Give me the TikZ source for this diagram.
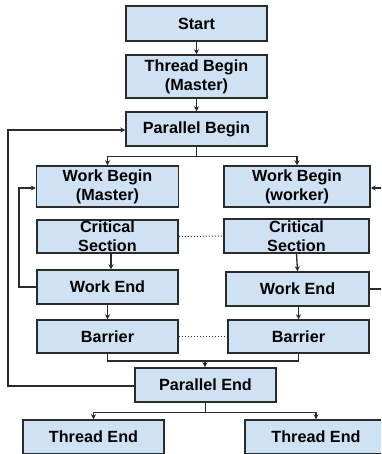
\documentclass[tikz,border=0pt]{standalone}
\usepackage{fontspec}
\setmainfont{Liberation Sans}
\usetikzlibrary{arrows.meta}
\definecolor{boxfill}{HTML}{CFE2F3}
\definecolor{boxline}{HTML}{2B2B2B}
\begin{document}
\begin{tikzpicture}[x=1pt,y=-1pt,
  box/.style={draw=boxline,fill=boxfill,line width=1.5pt,inner sep=0pt,align=center,
    font=\fontsize{16.2}{19}\selectfont\bfseries},
  conn/.style={draw=boxline,line width=1.3pt},
  arr/.style={conn,-{Stealth[length=5pt,width=5pt]}},
  dots/.style={draw=boxline,line width=1pt,dotted}]
\useasboundingbox (0,0) rectangle (381,454);
\clip (0,0) rectangle (381,454);
\node[box,minimum width=141pt,minimum height=35pt] (start) at (196.5,23.5) {Start};
\node[box,minimum width=141pt,minimum height=43pt] (tb) at (196.5,76.5) {Thread Begin\\(Master)};
\node[box,minimum width=141pt,minimum height=34pt] (pb) at (196.5,129) {Parallel Begin};
\node[box,minimum width=142pt,minimum height=41pt] (wbm) at (107.5,186.5) {Work Begin\\(Master)};
\node[box,minimum width=146pt,minimum height=41pt] (wbw) at (297,186.5) {Work Begin\\(worker)};
\node[box,minimum width=141pt,minimum height=33pt] (csm) at (107.5,236.5) {Critical\\Section};
\node[box,minimum width=145pt,minimum height=34pt] (csw) at (296.5,236) {Critical\\Section};
\node[box,minimum width=141pt,minimum height=34pt] (wem) at (107.5,287) {Work End};
\node[box,minimum width=143pt,minimum height=34pt] (wew) at (297.5,289) {Work End};
\node[box,minimum width=141pt,minimum height=33pt] (bm) at (107.5,336.5) {Barrier};
\node[box,minimum width=141pt,minimum height=33pt] (bw) at (298.5,336.5) {Barrier};
\node[box,minimum width=141pt,minimum height=34pt] (pe) at (205.5,385) {Parallel End};
\node[box,minimum width=141pt,minimum height=34pt] (tel) at (93.5,437) {Thread End};
\node[box,minimum width=142pt,minimum height=34pt] (ter) at (316,437) {Thread End};
\coordinate (ro1) at (395,289);
\coordinate (ro2) at (395,188);
% main flow
\draw[arr] (start) -- (tb);
\draw[arr] (tb) -- (pb);
\draw[conn] (pb.south) -- ++(0,10) coordinate (pbj);
\draw[arr] (pbj) -| (wbm.north);
\draw[arr] (pbj) -| (wbw.north);
\draw[arr] (csm.south -| 111,0) -- (wem.north -| 111,0);
\draw[arr] (csw.south) -- (wew.north);
\draw[arr] (wem) -- (bm);
\draw[arr] (wew.south -| bw.north) -- (bw.north);
\draw[conn] (bm.south) |- (205,361) coordinate (bj) -| (bw.south);
\draw[arr] (bj) -- (bj |- pe.north);
% loops
\draw[arr] (wem.west |- 0,287) -- (19,287) -- (19,188) -- (wbm.west |- 0,188);
\draw[conn] (wew.east) -- (ro1);
\draw[arr] (ro2) -- (wbw.east |- ro2);
\draw[arr] (pe.west |- 0,386) -- (8,386) -- (8,130) -- (pb.west |- 0,130);
% end
\draw[conn] (pe.south) -- ++(0,10) coordinate (pej);
\draw[arr] (pej) -| (tel.north);
\draw[arr] (pej) -| (ter.north);
% dotted
\draw[dots] (csm.east) -- (csw.west);
\draw[dots] (bm.east) -- (bw.west);
\end{tikzpicture}
\end{document}
